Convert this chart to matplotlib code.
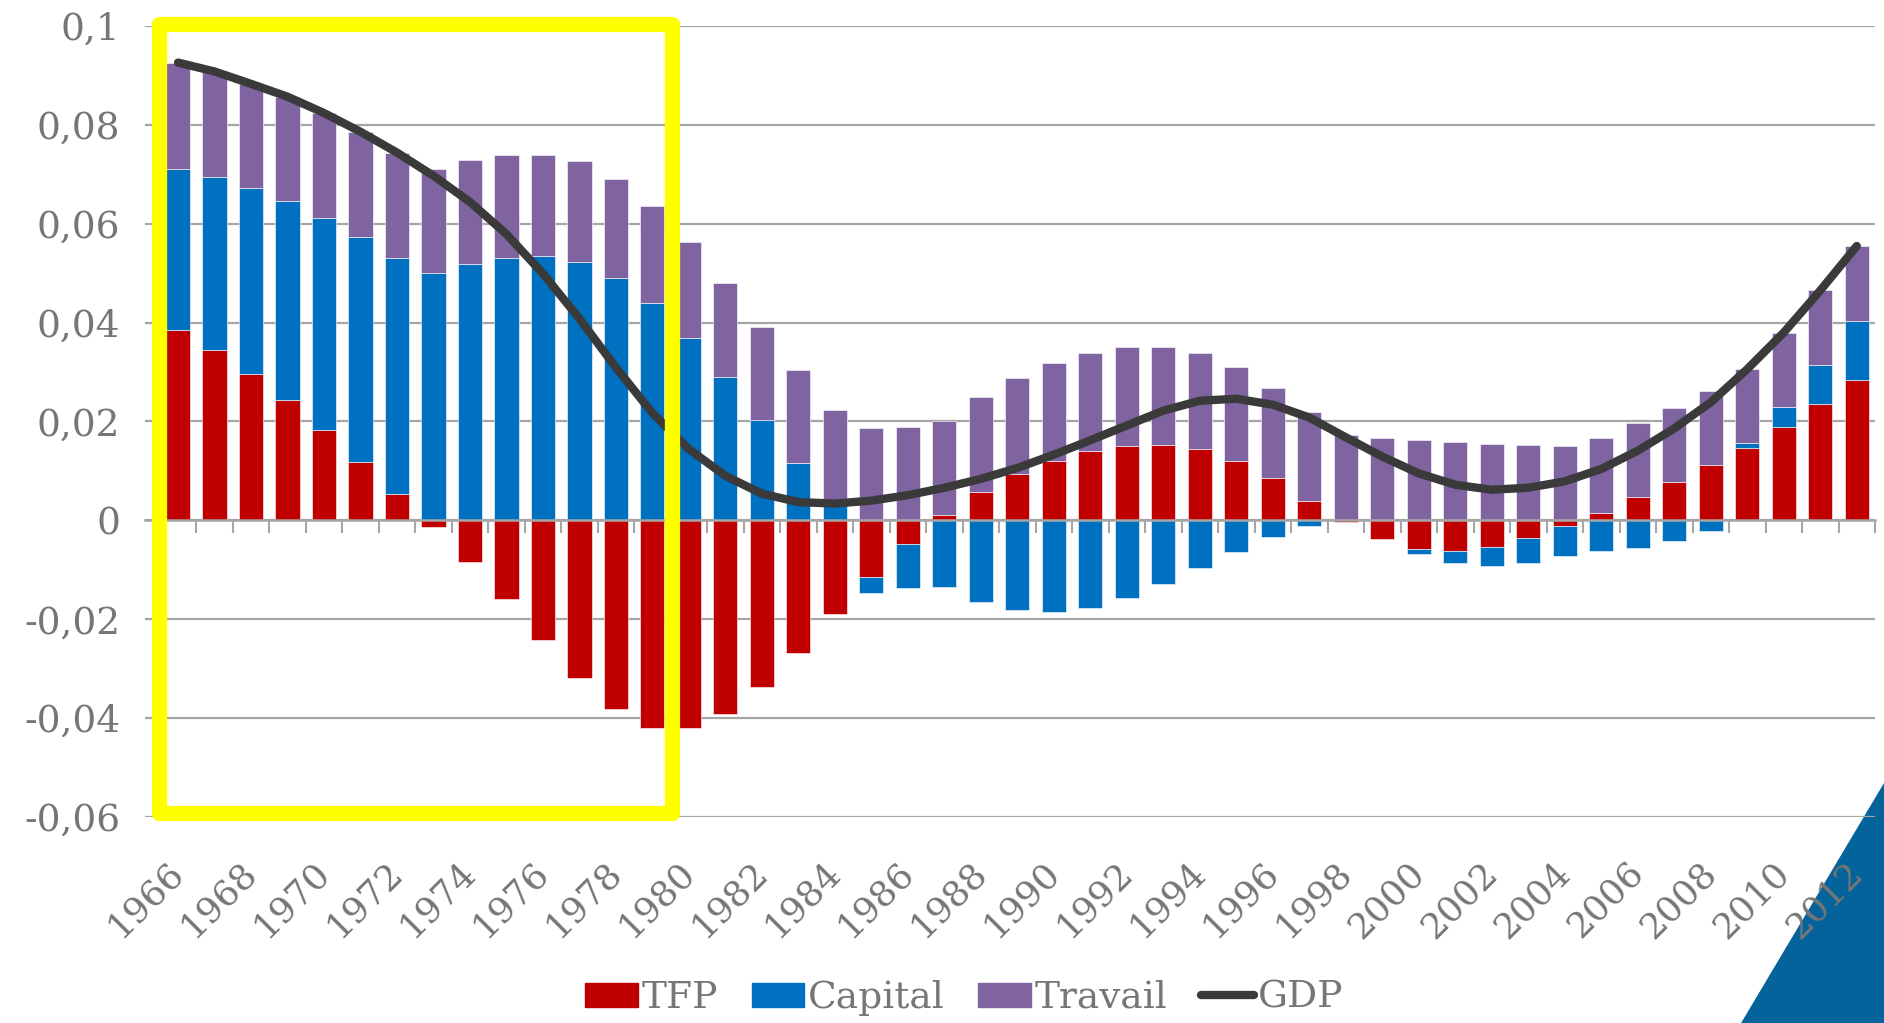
import matplotlib
matplotlib.use('Agg')
import matplotlib.pyplot as plt
import numpy as np
from matplotlib.patches import Rectangle, Polygon, Patch
from matplotlib.lines import Line2D
from matplotlib.ticker import FuncFormatter

years = list(range(1966, 2013))

tfp = [0.0386, 0.0344, 0.0297, 0.0243, 0.0183, 0.0118, 0.0053, -0.0014, -0.0084, -0.0160,
       -0.0241, -0.0318, -0.0382, -0.0419, -0.0419, -0.0391, -0.0338, -0.0268, -0.0189, -0.0115,
       -0.0047, 0.0010, 0.0057, 0.0093, 0.0121, 0.0140, 0.0151, 0.0153, 0.0144, 0.0121,
       0.0085, 0.0040, -0.0004, -0.0038, -0.0058, -0.0062, -0.0054, -0.0036, -0.0012, 0.0015,
       0.0047, 0.0078, 0.0111, 0.0147, 0.0188, 0.0236, 0.0284]

capital = [0.0324, 0.0350, 0.0375, 0.0403, 0.0428, 0.0456, 0.0478, 0.0500, 0.0518, 0.0531,
           0.0534, 0.0522, 0.0491, 0.0439, 0.0369, 0.0290, 0.0203, 0.0117, 0.0042, -0.0031,
           -0.0090, -0.0135, -0.0165, -0.0182, -0.0185, -0.0177, -0.0158, -0.0129, -0.0097, -0.0064,
           -0.0033, -0.0011, 0.0000, 0.0000, -0.0010, -0.0024, -0.0039, -0.0051, -0.0060, -0.0062,
           -0.0056, -0.0042, -0.0022, 0.0009, 0.0042, 0.0079, 0.0119]

travail = [0.0216, 0.0214, 0.0211, 0.0211, 0.0213, 0.0212, 0.0213, 0.0211, 0.0210, 0.0208,
           0.0206, 0.0204, 0.0200, 0.0197, 0.0194, 0.0191, 0.0189, 0.0188, 0.0181, 0.0186,
           0.0188, 0.0191, 0.0192, 0.0195, 0.0197, 0.0199, 0.0199, 0.0198, 0.0195, 0.0189,
           0.0182, 0.0179, 0.0172, 0.0167, 0.0163, 0.0158, 0.0155, 0.0153, 0.0151, 0.0151,
           0.0150, 0.0150, 0.0150, 0.0150, 0.0150, 0.0150, 0.0152]

gdp = [0.0926, 0.0908, 0.0883, 0.0857, 0.0824, 0.0786, 0.0744, 0.0697, 0.0644, 0.0579,
       0.0499, 0.0408, 0.0309, 0.0217, 0.0144, 0.0090, 0.0054, 0.0037, 0.0034, 0.0040,
       0.0051, 0.0066, 0.0084, 0.0106, 0.0133, 0.0162, 0.0192, 0.0222, 0.0242, 0.0246,
       0.0234, 0.0208, 0.0168, 0.0129, 0.0095, 0.0072, 0.0062, 0.0066, 0.0079, 0.0104,
       0.0141, 0.0186, 0.0239, 0.0306, 0.0380, 0.0465, 0.0555]

series_names = ['TFP', 'Capital', 'Travail']
series_colors = ['#C00000', '#0070C0', '#8064A2']
gdp_color = '#3A3A3A'
text_gray = '#767676'
grid_gray = '#A6A6A6'

W, H = 1884, 1023
fig = plt.figure(figsize=(W / 100, H / 100), dpi=100)
fig.patch.set_facecolor('white')

ax = fig.add_axes([145 / W, 1 - 817 / H, (1875 - 145) / W, (817 - 26) / H])
ax.set_facecolor('none')

x = np.arange(len(years))
pos_base = np.zeros(len(years))
neg_base = np.zeros(len(years))
for vals, col in zip([tfp, capital, travail], series_colors):
    v = np.array(vals)
    bottom = np.where(v >= 0, pos_base, neg_base)
    ax.bar(x, v, bottom=bottom, width=0.66, color=col, edgecolor='white',
           linewidth=0.4, zorder=3)
    pos_base += np.clip(v, 0, None)
    neg_base += np.clip(v, None, 0)

ax.plot(x, gdp, color=gdp_color, lw=6, solid_capstyle='round',
        solid_joinstyle='round', zorder=5)

ax.set_ylim(-0.06, 0.1)
ax.set_xlim(-0.905, len(years) - 0.5)
ax.set_yticks(np.arange(-0.06, 0.1001, 0.02))


def fr_fmt(v, pos):
    v = round(v, 4)
    if v == 0:
        return '0'
    return f'{v:.2f}'.rstrip('0').replace('.', ',')


ax.yaxis.set_major_formatter(FuncFormatter(fr_fmt))
ax.tick_params(axis='y', length=0, pad=18, labelsize=27, labelcolor=text_gray)
for lab in ax.get_yticklabels():
    lab.set_family('DejaVu Serif')
ax.yaxis.grid(True, color=grid_gray, lw=1.6)
ax.set_axisbelow(True)

for s in ['left', 'right', 'top']:
    ax.spines[s].set_visible(False)
ax.spines['bottom'].set_position(('data', 0))
ax.spines['bottom'].set_color(grid_gray)
ax.spines['bottom'].set_linewidth(1.8)
ax.spines['bottom'].set_zorder(4)
ax.set_xticks([])
ax.set_xticks(np.arange(-0.5, len(years), 1.0), minor=True)
ax.tick_params(axis='x', which='minor', length=9.5, width=1.5, color=grid_gray,
               direction='out')

# year labels under the plot area, every second year
for xi, yr in zip(x[::2], years[::2]):
    ax.annotate(str(yr), xy=(xi, 0), xycoords=('data', 'axes fraction'),
                xytext=(-8.5, -27.4), textcoords='offset points', rotation=45,
                rotation_mode='anchor', ha='right', va='top', fontsize=26,
                family='DejaVu Serif', color=text_gray, annotation_clip=False)

# yellow highlight box
ax.add_patch(Rectangle((-0.52, -0.0591), 13.54 + 0.52, 0.1004 + 0.0591, fill=False,
                       edgecolor='#FFFF00', lw=11, joinstyle='round', clip_on=False,
                       zorder=6))

# corner triangle
fig.add_artist(Polygon([(1.0, 1 - 783 / H), (1.01, -0.01), (1735 / W, -0.01)],
                       closed=True, transform=fig.transFigure, facecolor='#05639C',
                       edgecolor='none', zorder=-1))

handles = [Patch(color=c) for c in series_colors]
handles.append(Line2D([0], [0], color=gdp_color, lw=6, solid_capstyle='round'))
leg = fig.legend(handles, series_names + ['GDP'], loc='center',
                 bbox_to_anchor=(964 / W, 1 - 998 / H), ncol=4, frameon=False,
                 prop={'family': 'DejaVu Serif', 'size': 27}, labelcolor=text_gray,
                 handlelength=1.4, handleheight=0.6, handletextpad=0.1,
                 columnspacing=0.9, borderaxespad=0)

fig.savefig('out.png', dpi=100)
